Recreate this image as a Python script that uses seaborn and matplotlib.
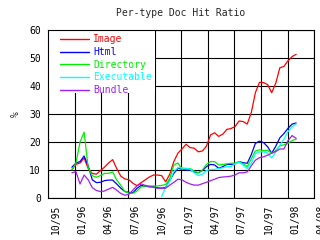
import numpy as np
import pandas as pd
import matplotlib
matplotlib.use("Agg")
import matplotlib.pyplot as plt
import matplotlib.transforms as mtransforms
from matplotlib.patches import Rectangle
import seaborn as sns

# ---- data (biweekly samples, % hit ratio) ----
dates = pd.date_range("1995-12-22", periods=56, freq="14D")

image = [10.2, 12.0, 12.5, 14.3, 10.5, 8.8, 8.5, 9.8, 11.0, 12.5,
         13.7, 10.5, 7.8, 6.8, 6.5, 5.2, 4.4, 5.5, 6.5, 7.5,
         8.2, 8.2, 8.0, 5.8, 8.5, 13.0, 16.0, 17.5, 19.2, 18.0,
         17.8, 16.5, 16.8, 18.5, 22.5, 23.3, 22.0, 22.8, 24.5, 24.8,
         25.5, 27.5, 27.3, 26.4, 30.5, 37.6, 41.3, 41.2, 40.5, 37.6,
         41.0, 46.5, 47.0, 49.0, 50.5, 51.3]
html = [11.0, 12.5, 13.0, 15.0, 11.5, 6.5, 5.5, 5.6, 6.2, 6.4,
        6.4, 5.0, 3.5, 2.3, 2.0, 1.9, 3.5, 4.5, 4.2, 4.0,
        4.0, 3.6, 3.5, 3.8, 6.3, 8.8, 10.6, 10.3, 10.0, 10.0,
        9.3, 9.0, 9.8, 11.2, 12.0, 11.8, 10.6, 11.2, 12.0, 12.0,
        12.2, 13.0, 12.6, 12.4, 15.5, 19.5, 20.3, 19.8, 18.3, 16.0,
        18.5, 21.5, 23.0, 24.9, 26.4, 26.8]
directory = [10.0, 12.5, 20.0, 23.5, 10.8, 8.0, 7.4, 8.0, 8.8, 8.8,
             9.3, 6.4, 4.5, 2.3, 1.7, 1.7, 2.5, 4.0, 4.3, 4.3,
             4.3, 4.3, 4.5, 4.8, 7.0, 11.8, 12.5, 10.2, 10.5, 10.5,
             9.6, 9.0, 10.0, 12.0, 13.0, 13.0, 11.8, 12.0, 12.2, 12.4,
             12.4, 13.0, 12.2, 11.2, 14.0, 16.8, 17.2, 17.0, 17.0, 16.0,
             17.0, 18.6, 19.0, 19.5, 20.5, 21.0]
executable = [np.nan] * 22 + [
    0.5, 3.8, 6.0, 9.5, 10.8, 10.8, 10.6, 10.3, 9.0, 8.0,
    8.5, 9.8, 10.2, 10.2, 10.5, 10.8, 11.2, 11.2, 12.2, 12.8,
    11.8, 10.5, 12.5, 15.8, 16.5, 16.5, 16.0, 14.3, 16.5, 18.8,
    21.0, 23.7, 25.5, 26.5]
bundle = [9.0, 9.4, 5.0, 8.2, 6.5, 3.7, 2.7, 2.3, 2.5, 3.2,
          3.8, 2.8, 1.6, 1.0, 1.3, 2.9, 4.4, 5.0, 4.5, 4.1,
          3.8, 3.5, 3.5, 3.5, 4.6, 5.6, 6.7, 6.5, 5.6, 5.0,
          4.6, 4.6, 5.1, 5.6, 6.2, 6.7, 7.3, 7.5, 7.6, 7.8,
          8.2, 9.0, 9.0, 9.3, 11.5, 13.5, 14.4, 14.7, 15.3, 16.0,
          16.6, 17.5, 17.5, 20.5, 22.3, 21.3]

types = ["Image", "Html", "Directory", "Executable", "Bundle"]
colors = ["#ff0000", "#0000ff", "#00ee00", "#00ffff", "#a020f0"]
tick_dates = ["1995-10-01", "1996-01-01", "1996-04-01", "1996-07-01",
              "1996-10-01", "1997-01-01", "1997-04-01", "1997-07-01",
              "1997-10-01", "1998-01-01", "1998-04-01"]
tick_labels = ["10/95", "01/96", "04/96", "07/96", "10/96", "01/97",
               "04/97", "07/97", "10/97", "01/98", "04/98"]

series = dict(zip(types, [image, html, directory, executable, bundle]))
df = pd.concat([pd.DataFrame({"date": dates, "ratio": v, "type": k})
                for k, v in series.items()], ignore_index=True).dropna()

# ---- style ----
sns.set_theme(style="white")
plt.rcParams["font.family"] = ["DejaVu Sans Mono", "DejaVu Sans"]
plt.rcParams["font.size"] = 7

fig = plt.figure(figsize=(3.2, 2.4), dpi=100)
ax = fig.add_axes([0.15, 0.175, 0.831, 0.70])

sns.lineplot(data=df, x="date", y="ratio", hue="type", hue_order=types,
             palette=dict(zip(types, colors)), estimator=None, sort=True,
             linewidth=0.9, ax=ax)

ax.set_xlim(pd.Timestamp(tick_dates[0]), pd.Timestamp(tick_dates[-1]))
ax.set_ylim(0, 60)
ax.set_yticks(range(0, 61, 10))
ax.set_xticks(pd.to_datetime(tick_dates))
ax.set_xticklabels(tick_labels, rotation=90, va="top", ha="center")
ax.tick_params(axis="both", direction="in", length=3, width=0.8,
               color="black", labelsize=7, labelcolor="black", pad=5)
ax.grid(True, color="black", linewidth=0.8)
ax.set_axisbelow(True)
for s in ax.spines.values():
    s.set_color("black")
    s.set_linewidth(0.8)

offset = mtransforms.ScaledTranslation(7.5 / 100, 0, fig.dpi_scale_trans)
for lab in ax.get_xticklabels():
    lab.set_transform(lab.get_transform() + offset)

ax.set_xlabel("")
ax.set_ylabel("%", fontsize=7, labelpad=6)
ax.set_title("Per-type Doc Hit Ratio", fontsize=7, pad=10)

# white area behind legend (covers the grid like the original)
ax.add_patch(Rectangle((0, 0.625), 0.402, 0.375, transform=ax.transAxes,
                       facecolor="white", edgecolor="none", zorder=1))

sns.move_legend(ax, loc="upper left", bbox_to_anchor=(0.045, 0.975),
                frameon=False, title=None, fontsize=7, handlelength=3.0,
                handletextpad=0.4, labelspacing=0.28, borderpad=0,
                borderaxespad=0)
leg = ax.get_legend()
for txt, ln in zip(leg.get_texts(), leg.get_lines()):
    txt.set_color(ln.get_color())
    ln.set_linewidth(1.0)

fig.savefig("out.png", dpi=100)
